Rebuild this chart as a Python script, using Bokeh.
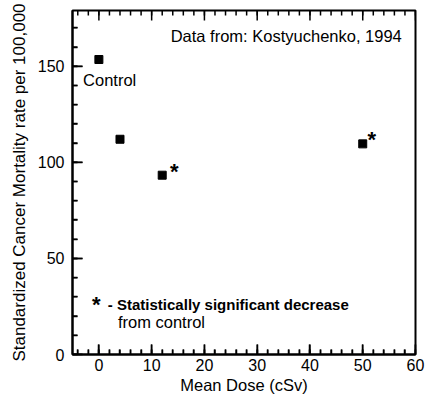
from bokeh.plotting import figure
from bokeh.models import FixedTicker, Range1d, Label, Arrow, ColumnDataSource
from bokeh.embed import file_html
from bokeh.resources import INLINE

dose = [0, 4, 12, 50]
rate = [153.5, 112, 93.3, 109.6]
x_ticks = [0, 10, 20, 30, 40, 50, 60]
x_minor = list(range(-4, 61, 2))
y_ticks = [0, 50, 100, 150]
y_minor = list(range(0, 171, 10))

X0, X1, Y0, Y1 = -5, 60, 0, 179
W, H = 425, 398
BL, BR, BT, BB = 72, 10, 10, 44
FONT = "Liberation Sans"

p = figure(width=W, height=H, output_backend="svg", toolbar_location=None,
           x_range=Range1d(X0, X1), y_range=Range1d(Y0, Y1),
           min_border_left=BL, min_border_right=BR, min_border_top=BT, min_border_bottom=BB)
p.grid.visible = False
p.outline_line_color = "black"
p.outline_line_width = 2

def style(ax, ticks, minor):
    ax.ticker = FixedTicker(ticks=ticks, minor_ticks=minor)
    ax.axis_line_color = "black"
    ax.axis_line_width = 2
    ax.major_tick_in = 10
    ax.major_tick_out = 0
    ax.minor_tick_in = 5
    ax.minor_tick_out = 0
    ax.major_tick_line_color = "black"
    ax.minor_tick_line_color = "black"
    ax.major_tick_line_width = 1.5
    ax.minor_tick_line_width = 1.5
    ax.major_label_text_font = FONT
    ax.major_label_text_font_size = "16px"
    ax.major_label_text_color = "black"

style(p.xaxis[0], x_ticks, x_minor)
style(p.yaxis[0], y_ticks, y_minor)
p.xaxis.axis_label = "Mean Dose (cSv)"
p.yaxis.axis_label = "Standardized Cancer Mortality rate per 100,000"
for ax, fs in ((p.xaxis[0], "16.5px"), (p.yaxis[0], "17px")):
    ax.axis_label_text_font = FONT
    ax.axis_label_text_font_size = fs
    ax.axis_label_text_font_style = "normal"
    ax.axis_label_text_color = "black"
p.xaxis.major_label_standoff = 4
p.yaxis.major_label_standoff = 8
p.xaxis.axis_label_standoff = 2
p.yaxis.axis_label_standoff = 6

# inward tick marks as head-less arrow annotations (pixel lengths -> data units)
ux = (X1 - X0) / (W - BL - BR)
uy = (Y1 - Y0) / (H - BT - BB)
tx0, ty0, tx1, ty1 = [], [], [], []
for yy, sgn in ((Y0, 1), (Y1, -1)):
    for t in x_ticks:
        tx0.append(t); ty0.append(yy); tx1.append(t); ty1.append(yy + sgn * 10 * uy)
    for t in x_minor:
        tx0.append(t); ty0.append(yy); tx1.append(t); ty1.append(yy + sgn * 5 * uy)
for t in y_ticks:
    tx0.append(X0); ty0.append(t); tx1.append(X0 + 10 * ux); ty1.append(t)
for t in y_minor:
    tx0.append(X0); ty0.append(t); tx1.append(X0 + 5 * ux); ty1.append(t)
tick_src = ColumnDataSource(dict(x0=tx0, y0=ty0, x1=tx1, y1=ty1))
p.add_layout(Arrow(start=None, end=None, x_start="x0", y_start="y0", x_end="x1", y_end="y1",
                   source=tick_src, line_color="black", line_width=1.5))

p.scatter(dose, rate, marker="square", size=8, color="black")

def lab(x, y, t, size="16.5px", style_="normal", align="left"):
    p.add_layout(Label(x=x, y=y, text=t, text_font=FONT, text_font_size=size,
                       text_font_style=style_, text_align=align,
                       text_baseline="middle", text_color="black"))

lab(-3.0, 143, "Control")
lab(57.4, 165.5, "Data from: Kostyuchenko, 1994", align="right")
lab(13.5, 95, "*", size="22px", style_="bold")
lab(50.9, 112, "*", size="22px", style_="bold")
lab(-1.3, 26, "*", size="22px", style_="bold")
lab(1.7, 26, "- Statistically significant decrease", size="15px", style_="bold")
lab(3.6, 16.8, "from control")

open("out.html", "w").write(file_html(p, INLINE))
